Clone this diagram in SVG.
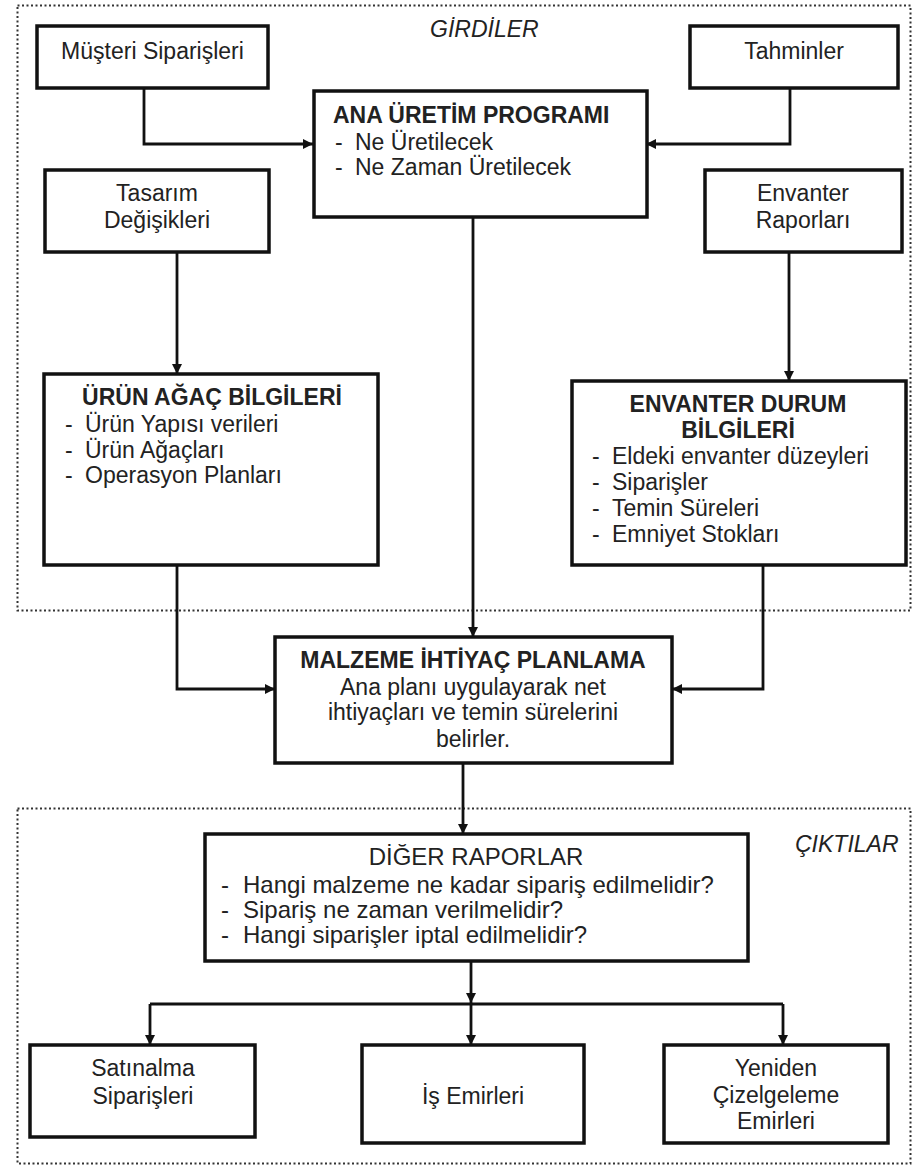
<svg xmlns="http://www.w3.org/2000/svg" width="913" height="1168" viewBox="0 0 913 1168">
<defs>
<marker id="arr" viewBox="0 0 10 10" refX="10" refY="5" markerWidth="11" markerHeight="10" markerUnits="userSpaceOnUse" orient="auto">
<path d="M0,0 L10,5 L0,10 z" fill="#111"/>
</marker>
<style>
.box{fill:#fff;stroke:#111;stroke-width:3.5}
.zone{fill:none;stroke:#333;stroke-width:2;stroke-dasharray:2 2.5}
.con{fill:none;stroke:#111;stroke-width:2.8}
text{font-family:"Liberation Sans",Arial,sans-serif;font-size:23px;fill:#222}
.c{text-anchor:middle}
.b{font-weight:bold}
.it{font-style:italic}
.n{font-size:24px}
</style>
</defs>
<rect width="913" height="1168" fill="#fff"/>
<g id="zones">
<rect class="zone" x="17.5" y="5.5" width="893" height="605"/>
<rect class="zone" x="17.5" y="808.5" width="893" height="355"/>
<text class="it" x="430" y="37">GİRDİLER</text>
<text class="it" x="795" y="852">ÇIKTILAR</text>
</g>
<g id="connectors">
<path class="con" d="M144,88 V144 H313" marker-end="url(#arr)"/>
<path class="con" d="M790,88 V144 H646" marker-end="url(#arr)"/>
<path class="con" d="M177,252 V374" marker-end="url(#arr)"/>
<path class="con" d="M789,252 V381" marker-end="url(#arr)"/>
<path class="con" d="M473,218 V637" marker-end="url(#arr)"/>
<path class="con" d="M177,565 V689 H275" marker-end="url(#arr)"/>
<path class="con" d="M763,565 V689 H672" marker-end="url(#arr)"/>
<path class="con" d="M463,763 V834" marker-end="url(#arr)"/>
<path class="con" d="M471,961 V1003" marker-end="url(#arr)"/>
<path class="con" d="M150,1004 H783"/>
<path class="con" d="M150,1004 V1045" marker-end="url(#arr)"/>
<path class="con" d="M471,1004 V1045" marker-end="url(#arr)"/>
<path class="con" d="M783,1004 V1045" marker-end="url(#arr)"/>
</g>
<g id="musteri">
<rect class="box" x="37" y="26" width="231" height="62"/>
<text class="c" x="152.5" y="59">Müşteri Siparişleri</text>
</g>
<g id="tahminler">
<rect class="box" x="690" y="26" width="208" height="62"/>
<text class="c" x="794" y="59">Tahminler</text>
</g>
<g id="ana">
<rect class="box" x="314" y="91" width="333" height="126"/>
<text class="b" x="333" y="123">ANA ÜRETİM PROGRAMI</text>
<text x="335" y="150">-</text><text x="355" y="150">Ne Üretilecek</text>
<text x="335" y="175">-</text><text x="355" y="175">Ne Zaman Üretilecek</text>
</g>
<g id="tasarim">
<rect class="box" x="45" y="170" width="224" height="82"/>
<text class="c" x="157" y="201">Tasarım</text>
<text class="c" x="157" y="228">Değişikleri</text>
</g>
<g id="envanter-rapor">
<rect class="box" x="705" y="170" width="197" height="82"/>
<text class="c" x="803" y="201">Envanter</text>
<text class="c" x="803" y="228">Raporları</text>
</g>
<g id="urun">
<rect class="box" x="44" y="374" width="334" height="191"/>
<text class="b c" x="212" y="405">ÜRÜN AĞAÇ BİLGİLERİ</text>
<text x="65" y="432">-</text><text x="85" y="432">Ürün Yapısı verileri</text>
<text x="65" y="458">-</text><text x="85" y="458">Ürün Ağaçları</text>
<text x="65" y="483">-</text><text x="85" y="483">Operasyon Planları</text>
</g>
<g id="envanter-durum">
<rect class="box" x="572" y="381" width="334" height="184"/>
<text class="b c" x="738" y="412">ENVANTER DURUM</text>
<text class="b c" x="738" y="438">BİLGİLERİ</text>
<text x="592" y="464">-</text><text x="612" y="464">Eldeki envanter düzeyleri</text>
<text x="592" y="490">-</text><text x="612" y="490">Siparişler</text>
<text x="592" y="516">-</text><text x="612" y="516">Temin Süreleri</text>
<text x="592" y="542">-</text><text x="612" y="542">Emniyet Stokları</text>
</g>
<g id="malzeme">
<rect class="box" x="275" y="637" width="397" height="126"/>
<text class="b c" x="473" y="668">MALZEME İHTİYAÇ PLANLAMA</text>
<text class="c" x="473" y="695">Ana planı uygulayarak net</text>
<text class="c" x="473" y="720">ihtiyaçları ve temin sürelerini</text>
<text class="c" x="473" y="747">belirler.</text>
</g>
<g id="diger">
<rect class="box" x="205" y="834" width="543" height="127"/>
<text class="c n" x="476" y="865">DİĞER RAPORLAR</text>
<text class="n" x="221" y="893">-</text><text class="n" x="243" y="893">Hangi malzeme ne kadar sipariş edilmelidir?</text>
<text class="n" x="221" y="918">-</text><text class="n" x="243" y="918">Sipariş ne zaman verilmelidir?</text>
<text class="n" x="221" y="943">-</text><text class="n" x="243" y="943">Hangi siparişler iptal edilmelidir?</text>
</g>
<g id="satinalma">
<rect class="box" x="30" y="1045" width="225" height="92"/>
<text class="c" x="143" y="1076">Satınalma</text>
<text class="c" x="143" y="1104">Siparişleri</text>
</g>
<g id="is-emirleri">
<rect class="box" x="362" y="1045" width="222" height="98"/>
<text class="c" x="473" y="1104">İş Emirleri</text>
</g>
<g id="yeniden">
<rect class="box" x="664" y="1045" width="224" height="98"/>
<text class="c" x="776" y="1076">Yeniden</text>
<text class="c" x="776" y="1103">Çizelgeleme</text>
<text class="c" x="776" y="1129">Emirleri</text>
</g>
</svg>
